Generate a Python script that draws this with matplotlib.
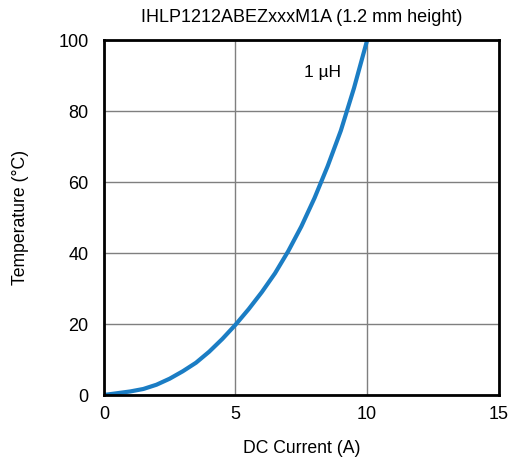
import matplotlib
matplotlib.use("Agg")
import matplotlib.pyplot as plt

plt.rcParams['font.family'] = ['Liberation Sans', 'DejaVu Sans']

# DC current (A) vs temperature rise (degC)
current = [0, 0.5, 1, 1.5, 2, 2.5, 3, 3.5, 4, 4.5, 5, 5.5, 6, 6.5, 7, 7.5, 8, 8.5, 9, 9.5, 10]
temp = [0, 0.5, 1.0, 1.7, 2.9, 4.6, 6.7, 9.1, 12.2, 15.8, 19.8, 24.2, 29.0, 34.3, 40.5,
        47.5, 55.5, 64.5, 74.5, 86.5, 100]
xticks = [0, 5, 10, 15]
yticks = [0, 20, 40, 60, 80, 100]

fig = plt.figure(figsize=(5.09, 4.62), dpi=100)
ax = fig.add_axes([0.204, 0.145, 0.776, 0.768])

ax.plot(current, temp, color='#1b7dc4', lw=3, solid_joinstyle='round', zorder=3)
ax.text(8.3, 91, '1 µH', ha='center', va='center', fontsize=12.5)

ax.set_xlim(0, 15)
ax.set_ylim(0, 100)
ax.set_xticks(xticks)
ax.set_yticks(yticks)
ax.grid(True, color='#7f7f7f', lw=1)
ax.tick_params(length=0, labelsize=13)
ax.tick_params(axis='x', pad=8)
ax.tick_params(axis='y', pad=11)
for s in ax.spines.values():
    s.set_linewidth(2)
    s.set_zorder(4)

ax.set_xlabel('DC Current (A)', fontsize=12.7, labelpad=12)
ax.set_ylabel('Temperature (°C)', fontsize=12.7, labelpad=21)
ax.set_title('IHLP1212ABEZxxxM1A (1.2 mm height)', fontsize=13, pad=13)

fig.savefig('out.png', dpi=100)
